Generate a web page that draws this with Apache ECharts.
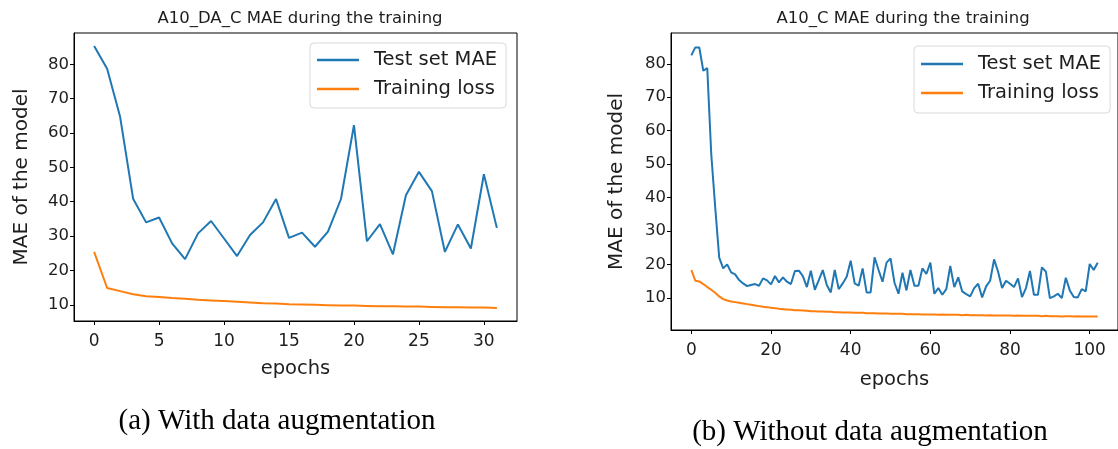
<!DOCTYPE html>
<html><head><meta charset="utf-8">
<script src="https://cdn.jsdelivr.net/npm/echarts@6/dist/echarts.min.js"></script>
<style>html,body{margin:0;padding:0;background:#fff}#c{width:1118px;height:449px}</style>
</head><body><div id="c"></div>
<script>
// ---- Data ----
const titleA = 'A10_DA_C MAE during the training';
const titleB = 'A10_C MAE during the training';
const captionA = '(a) With data augmentation';
const captionB = '(b) Without data augmentation';
const seriesNames = ['Test set MAE', 'Training loss'];
const yTicks = [10, 20, 30, 40, 50, 60, 70, 80];
const xTicksA = [0, 5, 10, 15, 20, 25, 30];
const xTicksB = [0, 20, 40, 60, 80, 100];

const testA = [85.3, 78.7, 64.7, 40.9, 34.0, 35.4, 27.9, 23.3, 30.8, 34.4, 29.3, 24.2, 30.3, 34.0, 40.8, 29.5,
  31.0, 26.9, 31.3, 40.8, 62.3, 28.5, 33.5, 24.7, 41.9, 48.7, 43.1, 25.4, 33.4, 26.4, 48.0, 32.4];
const lossA = [25.4, 14.9, 14.0, 13.1, 12.5, 12.3, 12.0, 11.8, 11.5, 11.3, 11.1, 10.9, 10.7, 10.5, 10.4, 10.2,
  10.1, 10.0, 9.9, 9.8, 9.8, 9.7, 9.6, 9.6, 9.5, 9.5, 9.4, 9.3, 9.3, 9.2, 9.2, 9.1];

const testB = [82.5, 84.9, 84.9, 77.9, 78.7, 53.0, 37.0, 22.0, 18.8, 20.0, 17.6, 17.0, 15.3, 14.3, 13.5, 13.8,
  14.1, 13.6, 15.8, 15.2, 14.0, 16.5, 14.6, 16.1, 14.8, 14.1, 18.0, 18.1, 16.5, 13.2, 18.1, 12.4,
  15.3, 18.3, 13.8, 11.6, 18.3, 12.6, 14.3, 16.3, 21.1, 14.3, 13.6, 18.8, 11.6, 11.6, 22.1, 18.3,
  14.8, 20.5, 21.8, 14.5, 11.2, 17.5, 12.2, 18.3, 13.6, 13.6, 18.8, 17.1, 20.5, 11.2, 12.9, 10.9,
  12.6, 19.5, 13.2, 16.1, 11.9, 11.1, 10.4, 12.9, 14.2, 10.1, 13.4, 15.1, 21.5, 17.8, 12.9, 15.1,
  14.2, 13.2, 15.8, 10.2, 12.9, 18.0, 10.9, 10.9, 19.1, 17.8, 9.9, 10.4, 11.2, 9.9, 16.0, 12.2,
  10.2, 10.1, 12.6, 11.9, 20.1, 18.3, 20.5];
const lossB = [18.3, 15.1, 14.9, 14.1, 13.2, 12.4, 11.5, 10.4, 9.6, 9.2, 8.9, 8.7, 8.5, 8.3, 8.1, 7.9,
  7.7, 7.5, 7.3, 7.2, 7.0, 6.9, 6.7, 6.6, 6.5, 6.4, 6.3, 6.3, 6.2, 6.1, 6.0, 6.0,
  5.9, 5.9, 5.8, 5.8, 5.7, 5.7, 5.6, 5.6, 5.6, 5.5, 5.5, 5.5, 5.4, 5.4, 5.4, 5.3,
  5.3, 5.3, 5.2, 5.2, 5.2, 5.2, 5.1, 5.1, 5.1, 5.1, 5.0, 5.0, 5.0, 5.0, 4.9, 5.0,
  4.9, 4.9, 4.9, 4.9, 4.8, 4.9, 4.8, 4.8, 4.8, 4.8, 4.7, 4.8, 4.7, 4.7, 4.7, 4.7,
  4.7, 4.6, 4.7, 4.6, 4.6, 4.6, 4.6, 4.6, 4.5, 4.6, 4.5, 4.5, 4.5, 4.4, 4.5, 4.5,
  4.4, 4.5, 4.4, 4.4, 4.4, 4.4, 4.4];

// ---- Chart ----
const BLUE = '#1f77b4', ORANGE = '#ff7f0e';
const FONT = 'DejaVu Sans';
const TXT = '#1e1e1e';
const pairs = arr => arr.map((v, i) => [i, v]);

function xAxis(gi, min, max, ticks, gap) {
  return {
    gridIndex: gi, type: 'value', min: min, max: max,
    name: 'epochs', nameLocation: 'middle', nameGap: gap,
    nameTextStyle: { fontFamily: FONT, fontSize: 19.5, color: TXT },
    axisLine: { show: true, onZero: false, lineStyle: { color: '#000', width: 1 } },
    axisTick: { show: true, length: 4, customValues: ticks, lineStyle: { color: '#000' } },
    axisLabel: { customValues: ticks, fontFamily: FONT, fontSize: 17, color: TXT, margin: 12 },
    splitLine: { show: false }
  };
}
function yAxis(gi, min, max, gap) {
  return {
    gridIndex: gi, type: 'value', min: min, max: max,
    name: 'MAE of the model', nameLocation: 'middle', nameGap: gap,
    nameTextStyle: { fontFamily: FONT, fontSize: 20, color: TXT },
    axisLine: { show: true, onZero: false, lineStyle: { color: '#000', width: 1 } },
    axisTick: { show: true, length: 4, customValues: yTicks, lineStyle: { color: '#000' } },
    axisLabel: { customValues: yTicks, fontFamily: FONT, fontSize: 16.5, color: TXT, margin: 5 },
    splitLine: { show: false }
  };
}
function legend(left, top, pad) {
  return {
    left: left, top: top, orient: 'vertical',
    data: seriesNames,
    icon: 'rect', itemWidth: 42, itemHeight: 2.5, itemGap: 9,
    padding: pad,
    backgroundColor: '#fff', borderColor: '#d9d9d9', borderWidth: 1, borderRadius: 4,
    textStyle: { fontFamily: FONT, fontSize: 19.5, color: TXT, lineHeight: 20, padding: [0, 0, 0, 10] },
    selectedMode: false
  };
}
function line(name, data, color, xi) {
  return {
    name: name, type: 'line', xAxisIndex: xi, yAxisIndex: xi, data: pairs(data),
    showSymbol: false, symbol: 'none', lineStyle: { color: color, width: 2 }, itemStyle: { color: color },
    silent: true
  };
}

const chart = echarts.init(document.getElementById('c'), null, { renderer: 'canvas' });
chart.setOption({
  animation: false,
  backgroundColor: '#fff',
  title: [
    { text: titleA, left: 295, top: 5, textAlign: 'center', textStyle: { fontFamily: FONT, fontSize: 16.5, fontWeight: 'normal', color: TXT } },
    { text: titleB, left: 898, top: 5, textAlign: 'center', textStyle: { fontFamily: FONT, fontSize: 16.5, fontWeight: 'normal', color: TXT } }
  ],
  grid: [
    { left: 74, top: 33, width: 443, height: 288, show: true, borderColor: '#000', borderWidth: 1, backgroundColor: 'transparent' },
    { left: 671, top: 33, width: 455, height: 297, show: true, borderColor: '#000', borderWidth: 1, backgroundColor: 'transparent' }
  ],
  xAxis: [xAxis(0, -1.55, 32.55, xTicksA, 38), xAxis(1, -5.1, 107.1, xTicksB, 40)],
  yAxis: [yAxis(0, 5.3, 89.1, 42), yAxis(1, 0.36, 89.2, 44)],
  legend: [legend(310, 43, [7, 9, 9, 7]), legend(914, 46, [8, 9, 10, 7])],
  series: [
    line(seriesNames[0], testA, BLUE, 0),
    line(seriesNames[1], lossA, ORANGE, 0),
    line(seriesNames[0], testB, BLUE, 1),
    line(seriesNames[1], lossB, ORANGE, 1)
  ],
  graphic: [
    { type: 'text', x: 277, y: 421, style: { text: captionA, fontFamily: 'Liberation Serif', fontSize: 29, fill: '#000', align: 'center', verticalAlign: 'middle' } },
    { type: 'text', x: 870, y: 432, style: { text: captionB, fontFamily: 'Liberation Serif', fontSize: 29, fill: '#000', align: 'center', verticalAlign: 'middle' } }
  ]
});
</script>
</body></html>
